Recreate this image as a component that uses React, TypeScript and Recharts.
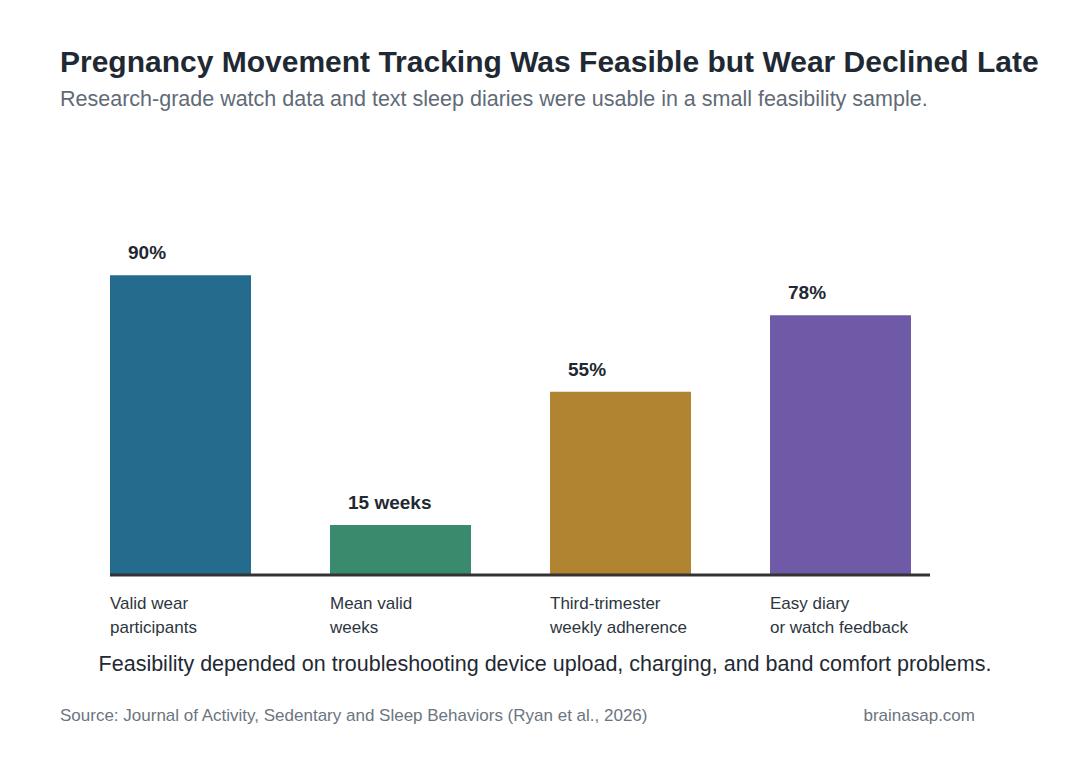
import { Bar, BarChart, Cell, LabelList, XAxis, YAxis } from 'recharts';

const categories = ['Valid wear participants', 'Mean valid weeks', 'Third-trimester weekly adherence', 'Easy diary or watch feedback'];
const tickLines = [
  ['Valid wear', 'participants'],
  ['Mean valid', 'weeks'],
  ['Third-trimester', 'weekly adherence'],
  ['Easy diary', 'or watch feedback'],
];
const values = [90, 15, 55, 78];
const valueLabels = ['90%', '15 weeks', '55%', '78%'];
const colors = ['#256b8d', '#3a8a6e', '#b08431', '#6f5aa7'];

const data = categories.map((name, i) => ({ name, value: values[i], label: valueLabels[i] }));

const font = '"Liberation Sans", Arial, sans-serif';

function CategoryTick({ x, y, index }: any) {
  const lines = tickLines[index] ?? [];
  return (
    <text x={x - 70} y={y} textAnchor="start" fontFamily={font} fontSize={17} fill="#2d3640">
      {lines.map((line, i) => (
        <tspan key={i} x={x - 70} dy={i === 0 ? 26 : 24}>
          {line}
        </tspan>
      ))}
    </text>
  );
}

function ValueLabel({ x, y, value }: any) {
  return (
    <text x={x + 18} y={y - 16} textAnchor="start" fontFamily={font} fontSize={19} fontWeight="bold" fill="#1f2933">
      {value}
    </text>
  );
}

export default function App() {
  return (
    <div style={{ position: 'absolute', left: 0, top: 0, width: 1080, height: 760, background: '#fff', fontFamily: font }}>
      <div style={{ position: 'absolute', left: 60, top: 45, fontSize: 30, fontWeight: 'bold', color: '#1f2933', whiteSpace: 'nowrap' }}>
        Pregnancy Movement Tracking Was Feasible but Wear Declined Late
      </div>
      <div style={{ position: 'absolute', left: 60, top: 87, fontSize: 21.5, color: '#5f6b76', whiteSpace: 'nowrap' }}>
        Research-grade watch data and text sleep diaries were usable in a small feasibility sample.
      </div>
      <BarChart
        width={1080}
        height={760}
        data={data}
        margin={{ top: 242, right: 150, bottom: 125, left: 110 }}
        style={{ position: 'absolute', left: 0, top: 0 }}
      >
        <YAxis hide domain={[0, 100]} />
        <XAxis
          dataKey="name"
          interval={0}
          padding={{ left: -40, right: -20 }}
          axisLine={{ stroke: '#333333', strokeWidth: 3 }}
          tickLine={false}
          tick={<CategoryTick />}
          height={60}
        />
        <Bar dataKey="value" barSize={141} isAnimationActive={false}>
          {data.map((d, i) => (
            <Cell key={d.name} fill={colors[i]} />
          ))}
          <LabelList dataKey="label" content={<ValueLabel />} />
        </Bar>
      </BarChart>
      <div style={{ position: 'absolute', left: 0, width: 1090, top: 652, textAlign: 'center', fontSize: 21.5, color: '#1f2933', whiteSpace: 'nowrap' }}>
        Feasibility depended on troubleshooting device upload, charging, and band comfort problems.
      </div>
      <div style={{ position: 'absolute', left: 60, top: 706, fontSize: 17, color: '#6b7580', whiteSpace: 'nowrap' }}>
        Source: Journal of Activity, Sedentary and Sleep Behaviors (Ryan et al., 2026)
      </div>
      <div style={{ position: 'absolute', right: 105, top: 706, fontSize: 17, color: '#6b7580', whiteSpace: 'nowrap' }}>
        brainasap.com
      </div>
    </div>
  );
}
